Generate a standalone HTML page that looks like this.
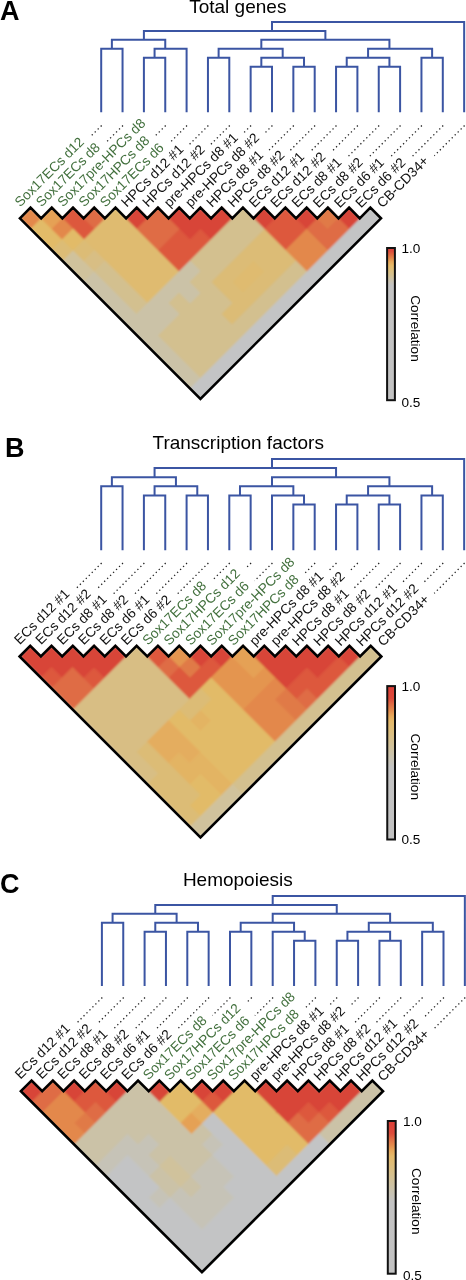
<!DOCTYPE html>
<html><head><meta charset="utf-8"><style>
html,body{margin:0;padding:0;background:#fff;width:466px;height:1280px;overflow:hidden}
svg{display:block;will-change:transform}
text{font-family:"Liberation Sans", sans-serif}
</style></head><body>
<svg width="466" height="1280" viewBox="0 0 466 1280">
<text x="0" y="20.4" font-size="27" font-weight="bold" fill="#000">A</text>
<text x="237.8" y="13.3" font-size="19" text-anchor="middle" fill="#000">Total genes</text>
<path d="M101.20,112.30V48.84H122.55V112.30M143.90,112.30V57.82H165.25V112.30M154.57,57.82V48.84H186.60V112.30M111.88,48.84V39.86H165.25V48.84M207.95,112.30V57.82H229.30V112.30M250.65,112.30V66.80H272.00V112.30M293.35,112.30V66.80H314.70V112.30M261.33,66.80V57.82H304.02V66.80M218.62,57.82V48.84H282.68V57.82M336.05,112.30V66.80H357.40V112.30M378.75,112.30V66.80H400.10V112.30M346.73,66.80V57.82H389.43V66.80M421.45,112.30V57.82H442.80V112.30M368.08,57.82V48.84H432.12V57.82M261.32,48.84V39.86H389.43V48.84M143.90,39.86V30.88H325.38V39.86M272.00,30.88V21.90H464.15V112.30" fill="none" stroke="#3b55a3" stroke-width="2" stroke-linejoin="miter"/>
<defs><clipPath id="clipA"><path d="M18.90,218.30L200.44,35.76L381.98,218.30L200.44,399.84Z"/></clipPath><filter id="blA" x="-5%" y="-5%" width="110%" height="110%"><feGaussianBlur stdDeviation="0.9"/></filter></defs>
<g clip-path="url(#clipA)"><g filter="url(#blA)" shape-rendering="crispEdges"><path d="M19.90,218.30L30.52,207.68L41.14,218.30L30.52,228.92Z" fill="#e3884c"/><path d="M41.14,218.30L51.76,207.68L62.38,218.30L51.76,228.92Z" fill="#e5a155"/><path d="M62.38,218.30L73.00,207.68L83.62,218.30L73.00,228.92Z" fill="#dd583c"/><path d="M83.62,218.30L94.24,207.68L104.86,218.30L94.24,228.92Z" fill="#df6c45"/><path d="M104.86,218.30L115.48,207.68L126.10,218.30L115.48,228.92Z" fill="#dfbb6f"/><path d="M126.10,218.30L136.72,207.68L147.34,218.30L136.72,228.92Z" fill="#d84537"/><path d="M147.34,218.30L157.96,207.68L168.58,218.30L157.96,228.92Z" fill="#df6c45"/><path d="M168.58,218.30L179.20,207.68L189.82,218.30L179.20,228.92Z" fill="#d84537"/><path d="M189.82,218.30L200.44,207.68L211.06,218.30L200.44,228.92Z" fill="#d84537"/><path d="M211.06,218.30L221.68,207.68L232.30,218.30L221.68,228.92Z" fill="#d84537"/><path d="M232.30,218.30L242.92,207.68L253.54,218.30L242.92,228.92Z" fill="#d3c08f"/><path d="M253.54,218.30L264.16,207.68L274.78,218.30L264.16,228.92Z" fill="#d84537"/><path d="M274.78,218.30L285.40,207.68L296.02,218.30L285.40,228.92Z" fill="#dd583c"/><path d="M296.02,218.30L306.64,207.68L317.26,218.30L306.64,228.92Z" fill="#d84537"/><path d="M317.26,218.30L327.88,207.68L338.50,218.30L327.88,228.92Z" fill="#e07a47"/><path d="M338.50,218.30L349.12,207.68L359.74,218.30L349.12,228.92Z" fill="#d84537"/><path d="M359.74,218.30L370.36,207.68L380.98,218.30L370.36,228.92Z" fill="#c3c4c5"/><path d="M30.52,228.92L41.14,218.30L51.76,228.92L41.14,239.54Z" fill="#e2bb68"/><path d="M51.76,228.92L62.38,218.30L73.00,228.92L62.38,239.54Z" fill="#e3884c"/><path d="M73.00,228.92L83.62,218.30L94.24,228.92L83.62,239.54Z" fill="#dd583c"/><path d="M94.24,228.92L104.86,218.30L115.48,228.92L104.86,239.54Z" fill="#dfbb6f"/><path d="M115.48,228.92L126.10,218.30L136.72,228.92L126.10,239.54Z" fill="#dfbb6f"/><path d="M136.72,228.92L147.34,218.30L157.96,228.92L147.34,239.54Z" fill="#df6c45"/><path d="M157.96,228.92L168.58,218.30L179.20,228.92L168.58,239.54Z" fill="#df6c45"/><path d="M179.20,228.92L189.82,218.30L200.44,228.92L189.82,239.54Z" fill="#d84537"/><path d="M200.44,228.92L211.06,218.30L221.68,228.92L211.06,239.54Z" fill="#d84537"/><path d="M221.68,228.92L232.30,218.30L242.92,228.92L232.30,239.54Z" fill="#d3c08f"/><path d="M242.92,228.92L253.54,218.30L264.16,228.92L253.54,239.54Z" fill="#d3c08f"/><path d="M264.16,228.92L274.78,218.30L285.40,228.92L274.78,239.54Z" fill="#dd583c"/><path d="M285.40,228.92L296.02,218.30L306.64,228.92L296.02,239.54Z" fill="#dd583c"/><path d="M306.64,228.92L317.26,218.30L327.88,228.92L317.26,239.54Z" fill="#df6c45"/><path d="M327.88,228.92L338.50,218.30L349.12,228.92L338.50,239.54Z" fill="#df6c45"/><path d="M349.12,228.92L359.74,218.30L370.36,228.92L359.74,239.54Z" fill="#c3c4c5"/><path d="M41.14,239.54L51.76,228.92L62.38,239.54L51.76,250.16Z" fill="#e2bb68"/><path d="M62.38,239.54L73.00,228.92L83.62,239.54L73.00,250.16Z" fill="#e2bb68"/><path d="M83.62,239.54L94.24,228.92L104.86,239.54L94.24,250.16Z" fill="#dfbb6f"/><path d="M104.86,239.54L115.48,228.92L126.10,239.54L115.48,250.16Z" fill="#dfbb6f"/><path d="M126.10,239.54L136.72,228.92L147.34,239.54L136.72,250.16Z" fill="#dfbb6f"/><path d="M147.34,239.54L157.96,228.92L168.58,239.54L157.96,250.16Z" fill="#df6c45"/><path d="M168.58,239.54L179.20,228.92L189.82,239.54L179.20,250.16Z" fill="#dd583c"/><path d="M189.82,239.54L200.44,228.92L211.06,239.54L200.44,250.16Z" fill="#dd583c"/><path d="M211.06,239.54L221.68,228.92L232.30,239.54L221.68,250.16Z" fill="#d3c08f"/><path d="M232.30,239.54L242.92,228.92L253.54,239.54L242.92,250.16Z" fill="#d3c08f"/><path d="M253.54,239.54L264.16,228.92L274.78,239.54L264.16,250.16Z" fill="#dcbc76"/><path d="M274.78,239.54L285.40,228.92L296.02,239.54L285.40,250.16Z" fill="#dd583c"/><path d="M296.02,239.54L306.64,228.92L317.26,239.54L306.64,250.16Z" fill="#e3884c"/><path d="M317.26,239.54L327.88,228.92L338.50,239.54L327.88,250.16Z" fill="#df6c45"/><path d="M338.50,239.54L349.12,228.92L359.74,239.54L349.12,250.16Z" fill="#c3c4c5"/><path d="M51.76,250.16L62.38,239.54L73.00,250.16L62.38,260.78Z" fill="#dcbc76"/><path d="M73.00,250.16L83.62,239.54L94.24,250.16L83.62,260.78Z" fill="#dcbc76"/><path d="M94.24,250.16L104.86,239.54L115.48,250.16L104.86,260.78Z" fill="#dfbb6f"/><path d="M115.48,250.16L126.10,239.54L136.72,250.16L126.10,260.78Z" fill="#dfbb6f"/><path d="M136.72,250.16L147.34,239.54L157.96,250.16L147.34,260.78Z" fill="#dfbb6f"/><path d="M157.96,250.16L168.58,239.54L179.20,250.16L168.58,260.78Z" fill="#dd583c"/><path d="M179.20,250.16L189.82,239.54L200.44,250.16L189.82,260.78Z" fill="#dd583c"/><path d="M200.44,250.16L211.06,239.54L221.68,250.16L211.06,260.78Z" fill="#d3c08f"/><path d="M221.68,250.16L232.30,239.54L242.92,250.16L232.30,260.78Z" fill="#d3c08f"/><path d="M242.92,250.16L253.54,239.54L264.16,250.16L253.54,260.78Z" fill="#dcbc76"/><path d="M264.16,250.16L274.78,239.54L285.40,250.16L274.78,260.78Z" fill="#dcbc76"/><path d="M285.40,250.16L296.02,239.54L306.64,250.16L296.02,260.78Z" fill="#e3884c"/><path d="M306.64,250.16L317.26,239.54L327.88,250.16L317.26,260.78Z" fill="#e3884c"/><path d="M327.88,250.16L338.50,239.54L349.12,250.16L338.50,260.78Z" fill="#c3c4c5"/><path d="M62.38,260.78L73.00,250.16L83.62,260.78L73.00,271.40Z" fill="#d0c29c"/><path d="M83.62,260.78L94.24,250.16L104.86,260.78L94.24,271.40Z" fill="#d8be84"/><path d="M104.86,260.78L115.48,250.16L126.10,260.78L115.48,271.40Z" fill="#dfbb6f"/><path d="M126.10,260.78L136.72,250.16L147.34,260.78L136.72,271.40Z" fill="#dfbb6f"/><path d="M147.34,260.78L157.96,250.16L168.58,260.78L157.96,271.40Z" fill="#dfbb6f"/><path d="M168.58,260.78L179.20,250.16L189.82,260.78L179.20,271.40Z" fill="#dd583c"/><path d="M189.82,260.78L200.44,250.16L211.06,260.78L200.44,271.40Z" fill="#d3c08f"/><path d="M211.06,260.78L221.68,250.16L232.30,260.78L221.68,271.40Z" fill="#d3c08f"/><path d="M232.30,260.78L242.92,250.16L253.54,260.78L242.92,271.40Z" fill="#dcbc76"/><path d="M253.54,260.78L264.16,250.16L274.78,260.78L264.16,271.40Z" fill="#dcbc76"/><path d="M274.78,260.78L285.40,250.16L296.02,260.78L285.40,271.40Z" fill="#dcbc76"/><path d="M296.02,260.78L306.64,250.16L317.26,260.78L306.64,271.40Z" fill="#e3884c"/><path d="M317.26,260.78L327.88,250.16L338.50,260.78L327.88,271.40Z" fill="#c3c4c5"/><path d="M73.00,271.40L83.62,260.78L94.24,271.40L83.62,282.02Z" fill="#d0c29c"/><path d="M94.24,271.40L104.86,260.78L115.48,271.40L104.86,282.02Z" fill="#d3c08f"/><path d="M115.48,271.40L126.10,260.78L136.72,271.40L126.10,282.02Z" fill="#dfbb6f"/><path d="M136.72,271.40L147.34,260.78L157.96,271.40L147.34,282.02Z" fill="#dfbb6f"/><path d="M157.96,271.40L168.58,260.78L179.20,271.40L168.58,282.02Z" fill="#dfbb6f"/><path d="M179.20,271.40L189.82,260.78L200.44,271.40L189.82,282.02Z" fill="#cbc2a7"/><path d="M200.44,271.40L211.06,260.78L221.68,271.40L211.06,282.02Z" fill="#d3c08f"/><path d="M221.68,271.40L232.30,260.78L242.92,271.40L232.30,282.02Z" fill="#dcbc76"/><path d="M242.92,271.40L253.54,260.78L264.16,271.40L253.54,282.02Z" fill="#dfbb6f"/><path d="M264.16,271.40L274.78,260.78L285.40,271.40L274.78,282.02Z" fill="#dcbc76"/><path d="M285.40,271.40L296.02,260.78L306.64,271.40L296.02,282.02Z" fill="#d3c08f"/><path d="M306.64,271.40L317.26,260.78L327.88,271.40L317.26,282.02Z" fill="#c3c4c5"/><path d="M83.62,282.02L94.24,271.40L104.86,282.02L94.24,292.64Z" fill="#cbc2a7"/><path d="M104.86,282.02L115.48,271.40L126.10,282.02L115.48,292.64Z" fill="#d3c08f"/><path d="M126.10,282.02L136.72,271.40L147.34,282.02L136.72,292.64Z" fill="#dfbb6f"/><path d="M147.34,282.02L157.96,271.40L168.58,282.02L157.96,292.64Z" fill="#dfbb6f"/><path d="M168.58,282.02L179.20,271.40L189.82,282.02L179.20,292.64Z" fill="#cbc2a7"/><path d="M189.82,282.02L200.44,271.40L211.06,282.02L200.44,292.64Z" fill="#d3c08f"/><path d="M211.06,282.02L221.68,271.40L232.30,282.02L221.68,292.64Z" fill="#dcbc76"/><path d="M232.30,282.02L242.92,271.40L253.54,282.02L242.92,292.64Z" fill="#dfbb6f"/><path d="M253.54,282.02L264.16,271.40L274.78,282.02L264.16,292.64Z" fill="#dcbc76"/><path d="M274.78,282.02L285.40,271.40L296.02,282.02L285.40,292.64Z" fill="#d3c08f"/><path d="M296.02,282.02L306.64,271.40L317.26,282.02L306.64,292.64Z" fill="#c3c4c5"/><path d="M94.24,292.64L104.86,282.02L115.48,292.64L104.86,303.26Z" fill="#cbc2a7"/><path d="M115.48,292.64L126.10,282.02L136.72,292.64L126.10,303.26Z" fill="#d3c08f"/><path d="M136.72,292.64L147.34,282.02L157.96,292.64L147.34,303.26Z" fill="#dfbb6f"/><path d="M157.96,292.64L168.58,282.02L179.20,292.64L168.58,303.26Z" fill="#cbc2a7"/><path d="M179.20,292.64L189.82,282.02L200.44,292.64L189.82,303.26Z" fill="#cbc2a7"/><path d="M200.44,292.64L211.06,282.02L221.68,292.64L211.06,303.26Z" fill="#d3c08f"/><path d="M221.68,292.64L232.30,282.02L242.92,292.64L232.30,303.26Z" fill="#dcbc76"/><path d="M242.92,292.64L253.54,282.02L264.16,292.64L253.54,303.26Z" fill="#dcbc76"/><path d="M264.16,292.64L274.78,282.02L285.40,292.64L274.78,303.26Z" fill="#d3c08f"/><path d="M285.40,292.64L296.02,282.02L306.64,292.64L296.02,303.26Z" fill="#c3c4c5"/><path d="M104.86,303.26L115.48,292.64L126.10,303.26L115.48,313.88Z" fill="#cbc2a7"/><path d="M126.10,303.26L136.72,292.64L147.34,303.26L136.72,313.88Z" fill="#d3c08f"/><path d="M147.34,303.26L157.96,292.64L168.58,303.26L157.96,313.88Z" fill="#cbc2a7"/><path d="M168.58,303.26L179.20,292.64L189.82,303.26L179.20,313.88Z" fill="#d3c08f"/><path d="M189.82,303.26L200.44,292.64L211.06,303.26L200.44,313.88Z" fill="#d3c08f"/><path d="M211.06,303.26L221.68,292.64L232.30,303.26L221.68,313.88Z" fill="#d3c08f"/><path d="M232.30,303.26L242.92,292.64L253.54,303.26L242.92,313.88Z" fill="#dcbc76"/><path d="M253.54,303.26L264.16,292.64L274.78,303.26L264.16,313.88Z" fill="#d3c08f"/><path d="M274.78,303.26L285.40,292.64L296.02,303.26L285.40,313.88Z" fill="#c3c4c5"/><path d="M115.48,313.88L126.10,303.26L136.72,313.88L126.10,324.50Z" fill="#cbc2a7"/><path d="M136.72,313.88L147.34,303.26L157.96,313.88L147.34,324.50Z" fill="#cbc2a7"/><path d="M157.96,313.88L168.58,303.26L179.20,313.88L168.58,324.50Z" fill="#cbc2a7"/><path d="M179.20,313.88L189.82,303.26L200.44,313.88L189.82,324.50Z" fill="#d3c08f"/><path d="M200.44,313.88L211.06,303.26L221.68,313.88L211.06,324.50Z" fill="#d3c08f"/><path d="M221.68,313.88L232.30,303.26L242.92,313.88L232.30,324.50Z" fill="#dcbc76"/><path d="M242.92,313.88L253.54,303.26L264.16,313.88L253.54,324.50Z" fill="#d3c08f"/><path d="M264.16,313.88L274.78,303.26L285.40,313.88L274.78,324.50Z" fill="#c3c4c5"/><path d="M126.10,324.50L136.72,313.88L147.34,324.50L136.72,335.12Z" fill="#cbc2a7"/><path d="M147.34,324.50L157.96,313.88L168.58,324.50L157.96,335.12Z" fill="#cbc2a7"/><path d="M168.58,324.50L179.20,313.88L189.82,324.50L179.20,335.12Z" fill="#d3c08f"/><path d="M189.82,324.50L200.44,313.88L211.06,324.50L200.44,335.12Z" fill="#d3c08f"/><path d="M211.06,324.50L221.68,313.88L232.30,324.50L221.68,335.12Z" fill="#d3c08f"/><path d="M232.30,324.50L242.92,313.88L253.54,324.50L242.92,335.12Z" fill="#d3c08f"/><path d="M253.54,324.50L264.16,313.88L274.78,324.50L264.16,335.12Z" fill="#c3c4c5"/><path d="M136.72,335.12L147.34,324.50L157.96,335.12L147.34,345.74Z" fill="#cbc2a7"/><path d="M157.96,335.12L168.58,324.50L179.20,335.12L168.58,345.74Z" fill="#d3c08f"/><path d="M179.20,335.12L189.82,324.50L200.44,335.12L189.82,345.74Z" fill="#d3c08f"/><path d="M200.44,335.12L211.06,324.50L221.68,335.12L211.06,345.74Z" fill="#d3c08f"/><path d="M221.68,335.12L232.30,324.50L242.92,335.12L232.30,345.74Z" fill="#d3c08f"/><path d="M242.92,335.12L253.54,324.50L264.16,335.12L253.54,345.74Z" fill="#c3c4c5"/><path d="M147.34,345.74L157.96,335.12L168.58,345.74L157.96,356.36Z" fill="#cbc2a7"/><path d="M168.58,345.74L179.20,335.12L189.82,345.74L179.20,356.36Z" fill="#d3c08f"/><path d="M189.82,345.74L200.44,335.12L211.06,345.74L200.44,356.36Z" fill="#d3c08f"/><path d="M211.06,345.74L221.68,335.12L232.30,345.74L221.68,356.36Z" fill="#d3c08f"/><path d="M232.30,345.74L242.92,335.12L253.54,345.74L242.92,356.36Z" fill="#c3c4c5"/><path d="M157.96,356.36L168.58,345.74L179.20,356.36L168.58,366.98Z" fill="#cbc2a7"/><path d="M179.20,356.36L189.82,345.74L200.44,356.36L189.82,366.98Z" fill="#d3c08f"/><path d="M200.44,356.36L211.06,345.74L221.68,356.36L211.06,366.98Z" fill="#d3c08f"/><path d="M221.68,356.36L232.30,345.74L242.92,356.36L232.30,366.98Z" fill="#c3c4c5"/><path d="M168.58,366.98L179.20,356.36L189.82,366.98L179.20,377.60Z" fill="#cbc2a7"/><path d="M189.82,366.98L200.44,356.36L211.06,366.98L200.44,377.60Z" fill="#d3c08f"/><path d="M211.06,366.98L221.68,356.36L232.30,366.98L221.68,377.60Z" fill="#c3c4c5"/><path d="M179.20,377.60L189.82,366.98L200.44,377.60L189.82,388.22Z" fill="#cbc2a7"/><path d="M200.44,377.60L211.06,366.98L221.68,377.60L211.06,388.22Z" fill="#c3c4c5"/><path d="M189.82,388.22L200.44,377.60L211.06,388.22L200.44,398.84Z" fill="#c3c4c5"/></g></g>
<path d="M19.90,218.30L30.52,207.68L41.14,218.30L51.76,207.68L62.38,218.30L73.00,207.68L83.62,218.30L94.24,207.68L104.86,218.30L115.48,207.68L126.10,218.30L136.72,207.68L147.34,218.30L157.96,207.68L168.58,218.30L179.20,207.68L189.82,218.30L200.44,207.68L211.06,218.30L221.68,207.68L232.30,218.30L242.92,207.68L253.54,218.30L264.16,207.68L274.78,218.30L285.40,207.68L296.02,218.30L306.64,207.68L317.26,218.30L327.88,207.68L338.50,218.30L349.12,207.68L359.74,218.30L370.36,207.68L380.98,218.30L200.44,398.84Z" fill="none" stroke="#000" stroke-width="2.6" stroke-linejoin="miter" stroke-miterlimit="10"/>
<text transform="translate(20.30,207.40) rotate(-45)" font-size="13.7" fill="#42703d">Sox17ECs d12</text>
<line x1="101.60" y1="125.50" x2="89.87" y2="137.23" stroke="#222" stroke-width="1.3" stroke-dasharray="1.3 2.9"/>
<text transform="translate(41.60,207.47) rotate(-45)" font-size="13.7" fill="#42703d">Sox17ECs d8</text>
<line x1="122.95" y1="125.50" x2="105.78" y2="142.67" stroke="#222" stroke-width="1.3" stroke-dasharray="1.3 2.9"/>
<text transform="translate(62.90,207.54) rotate(-45)" font-size="13.7" fill="#42703d">Sox17pre-HPCs d8</text>
<text transform="translate(84.20,207.61) rotate(-45)" font-size="13.7" fill="#42703d">Sox17HPCs d8</text>
<line x1="165.65" y1="125.50" x2="155.35" y2="135.80" stroke="#222" stroke-width="1.3" stroke-dasharray="1.3 2.9"/>
<text transform="translate(105.50,207.68) rotate(-45)" font-size="13.7" fill="#42703d">Sox17ECs d6</text>
<line x1="187.00" y1="125.50" x2="169.65" y2="142.85" stroke="#222" stroke-width="1.3" stroke-dasharray="1.3 2.9"/>
<text transform="translate(126.80,207.75) rotate(-45)" font-size="13.7" fill="#111">HPCs d12 #1</text>
<line x1="208.35" y1="125.50" x2="189.33" y2="144.52" stroke="#222" stroke-width="1.3" stroke-dasharray="1.3 2.9"/>
<text transform="translate(148.10,207.82) rotate(-45)" font-size="13.7" fill="#111">HPCs d12 #2</text>
<line x1="229.70" y1="125.50" x2="210.62" y2="144.58" stroke="#222" stroke-width="1.3" stroke-dasharray="1.3 2.9"/>
<text transform="translate(169.40,207.89) rotate(-45)" font-size="13.7" fill="#111">pre-HPCs d8 #1</text>
<line x1="251.05" y1="125.50" x2="243.73" y2="132.82" stroke="#222" stroke-width="1.3" stroke-dasharray="1.3 2.9"/>
<text transform="translate(190.70,207.96) rotate(-45)" font-size="13.7" fill="#111">pre-HPCs d8 #2</text>
<line x1="272.40" y1="125.50" x2="265.02" y2="132.88" stroke="#222" stroke-width="1.3" stroke-dasharray="1.3 2.9"/>
<text transform="translate(212.00,208.03) rotate(-45)" font-size="13.7" fill="#111">HPCs d8 #1</text>
<line x1="293.75" y1="125.50" x2="269.11" y2="150.14" stroke="#222" stroke-width="1.3" stroke-dasharray="1.3 2.9"/>
<text transform="translate(233.30,208.10) rotate(-45)" font-size="13.7" fill="#111">HPCs d8 #2</text>
<line x1="315.10" y1="125.50" x2="290.40" y2="150.20" stroke="#222" stroke-width="1.3" stroke-dasharray="1.3 2.9"/>
<text transform="translate(254.60,208.17) rotate(-45)" font-size="13.7" fill="#111">ECs d12 #1</text>
<line x1="336.45" y1="125.50" x2="310.07" y2="151.88" stroke="#222" stroke-width="1.3" stroke-dasharray="1.3 2.9"/>
<text transform="translate(275.90,208.24) rotate(-45)" font-size="13.7" fill="#111">ECs d12 #2</text>
<line x1="357.80" y1="125.50" x2="331.36" y2="151.94" stroke="#222" stroke-width="1.3" stroke-dasharray="1.3 2.9"/>
<text transform="translate(297.20,208.31) rotate(-45)" font-size="13.7" fill="#111">ECs d8 #1</text>
<line x1="379.15" y1="125.50" x2="347.27" y2="157.38" stroke="#222" stroke-width="1.3" stroke-dasharray="1.3 2.9"/>
<text transform="translate(318.50,208.38) rotate(-45)" font-size="13.7" fill="#111">ECs d8 #2</text>
<line x1="400.50" y1="125.50" x2="368.56" y2="157.44" stroke="#222" stroke-width="1.3" stroke-dasharray="1.3 2.9"/>
<text transform="translate(339.80,208.45) rotate(-45)" font-size="13.7" fill="#111">ECs d6 #1</text>
<line x1="421.85" y1="125.50" x2="389.85" y2="157.50" stroke="#222" stroke-width="1.3" stroke-dasharray="1.3 2.9"/>
<text transform="translate(361.10,208.52) rotate(-45)" font-size="13.7" fill="#111">ECs d6 #2</text>
<line x1="443.20" y1="125.50" x2="411.14" y2="157.56" stroke="#222" stroke-width="1.3" stroke-dasharray="1.3 2.9"/>
<text transform="translate(382.40,208.59) rotate(-45)" font-size="13.7" fill="#111">CB-CD34+</text>
<line x1="464.55" y1="125.50" x2="434.30" y2="155.75" stroke="#222" stroke-width="1.3" stroke-dasharray="1.3 2.9"/>
<defs><linearGradient id="gA" x1="0" y1="0" x2="0" y2="1"><stop offset="0" stop-color="#e04040"/><stop offset="0.02" stop-color="#dc4a3a"/><stop offset="0.045" stop-color="#df6a40"/><stop offset="0.07" stop-color="#e38a4c"/><stop offset="0.09" stop-color="#e7a85a"/><stop offset="0.115" stop-color="#e7ba6a"/><stop offset="0.15" stop-color="#dcc080"/><stop offset="0.185" stop-color="#d3c196"/><stop offset="0.215" stop-color="#cac3b0"/><stop offset="0.245" stop-color="#c3c3c3"/><stop offset="1" stop-color="#c2c2c2"/></linearGradient></defs>
<rect x="387.1" y="248" width="7.8" height="152.2" fill="url(#gA)" stroke="#111" stroke-width="2"/>
<text x="401.5" y="252.9" font-size="13.6" fill="#000">1.0</text>
<text x="401.5" y="406.5" font-size="13.6" fill="#000">0.5</text>
<text transform="translate(410.6,295.2) rotate(90)" font-size="13.6" fill="#000">Correlation</text>
<text x="5" y="456.8" font-size="27" font-weight="bold" fill="#000">B</text>
<text x="238.2" y="449.1" font-size="19" text-anchor="middle" fill="#000">Transcription factors</text>
<path d="M101.20,550.30V486.30H122.55V550.30M143.90,550.30V495.40H165.25V550.30M186.60,550.30V495.40H207.95V550.30M154.57,495.40V486.30H197.28V495.40M111.88,486.30V477.20H175.93V486.30M229.30,550.30V495.40H250.65V550.30M293.35,550.30V504.50H314.70V550.30M272.00,550.30V495.40H304.02V504.50M239.98,495.40V486.30H293.35V495.40M336.05,550.30V504.50H357.40V550.30M378.75,550.30V504.50H400.10V550.30M346.73,504.50V495.40H389.43V504.50M421.45,550.30V495.40H442.80V550.30M368.08,495.40V486.30H432.12V495.40M272.00,486.30V477.20H389.43V486.30M154.57,477.20V468.10H336.05V477.20M272.00,468.10V459.00H464.15V550.30" fill="none" stroke="#3b55a3" stroke-width="2" stroke-linejoin="miter"/>
<defs><clipPath id="clipB"><path d="M18.60,656.50L200.48,473.62L382.36,656.50L200.48,838.38Z"/></clipPath><filter id="blB" x="-5%" y="-5%" width="110%" height="110%"><feGaussianBlur stdDeviation="0.9"/></filter></defs>
<g clip-path="url(#clipB)"><g filter="url(#blB)" shape-rendering="crispEdges"><path d="M19.60,656.50L30.24,645.86L40.88,656.50L30.24,667.14Z" fill="#d84537"/><path d="M40.88,656.50L51.52,645.86L62.16,656.50L51.52,667.14Z" fill="#d84537"/><path d="M62.16,656.50L72.80,645.86L83.44,656.50L72.80,667.14Z" fill="#d84537"/><path d="M83.44,656.50L94.08,645.86L104.72,656.50L94.08,667.14Z" fill="#d84537"/><path d="M104.72,656.50L115.36,645.86L126.00,656.50L115.36,667.14Z" fill="#d84537"/><path d="M126.00,656.50L136.64,645.86L147.28,656.50L136.64,667.14Z" fill="#d8be84"/><path d="M147.28,656.50L157.92,645.86L168.56,656.50L157.92,667.14Z" fill="#dd583c"/><path d="M168.56,656.50L179.20,645.86L189.84,656.50L179.20,667.14Z" fill="#e4954f"/><path d="M189.84,656.50L200.48,645.86L211.12,656.50L200.48,667.14Z" fill="#d84537"/><path d="M211.12,656.50L221.76,645.86L232.40,656.50L221.76,667.14Z" fill="#d84537"/><path d="M232.40,656.50L243.04,645.86L253.68,656.50L243.04,667.14Z" fill="#e5a155"/><path d="M253.68,656.50L264.32,645.86L274.96,656.50L264.32,667.14Z" fill="#d84537"/><path d="M274.96,656.50L285.60,645.86L296.24,656.50L285.60,667.14Z" fill="#d84537"/><path d="M296.24,656.50L306.88,645.86L317.52,656.50L306.88,667.14Z" fill="#d84537"/><path d="M317.52,656.50L328.16,645.86L338.80,656.50L328.16,667.14Z" fill="#d84537"/><path d="M338.80,656.50L349.44,645.86L360.08,656.50L349.44,667.14Z" fill="#d84537"/><path d="M360.08,656.50L370.72,645.86L381.36,656.50L370.72,667.14Z" fill="#d3c08f"/><path d="M30.24,667.14L40.88,656.50L51.52,667.14L40.88,677.78Z" fill="#d84537"/><path d="M51.52,667.14L62.16,656.50L72.80,667.14L62.16,677.78Z" fill="#d84537"/><path d="M72.80,667.14L83.44,656.50L94.08,667.14L83.44,677.78Z" fill="#d84537"/><path d="M94.08,667.14L104.72,656.50L115.36,667.14L104.72,677.78Z" fill="#d84537"/><path d="M115.36,667.14L126.00,656.50L136.64,667.14L126.00,677.78Z" fill="#d8be84"/><path d="M136.64,667.14L147.28,656.50L157.92,667.14L147.28,677.78Z" fill="#d8be84"/><path d="M157.92,667.14L168.56,656.50L179.20,667.14L168.56,677.78Z" fill="#df6c45"/><path d="M179.20,667.14L189.84,656.50L200.48,667.14L189.84,677.78Z" fill="#e07a47"/><path d="M200.48,667.14L211.12,656.50L221.76,667.14L211.12,677.78Z" fill="#dd583c"/><path d="M221.76,667.14L232.40,656.50L243.04,667.14L232.40,677.78Z" fill="#e4954f"/><path d="M243.04,667.14L253.68,656.50L264.32,667.14L253.68,677.78Z" fill="#e5a155"/><path d="M264.32,667.14L274.96,656.50L285.60,667.14L274.96,677.78Z" fill="#d84537"/><path d="M285.60,667.14L296.24,656.50L306.88,667.14L296.24,677.78Z" fill="#d84537"/><path d="M306.88,667.14L317.52,656.50L328.16,667.14L317.52,677.78Z" fill="#d84537"/><path d="M328.16,667.14L338.80,656.50L349.44,667.14L338.80,677.78Z" fill="#dd583c"/><path d="M349.44,667.14L360.08,656.50L370.72,667.14L360.08,677.78Z" fill="#d3c08f"/><path d="M40.88,677.78L51.52,667.14L62.16,677.78L51.52,688.42Z" fill="#dd583c"/><path d="M62.16,677.78L72.80,667.14L83.44,677.78L72.80,688.42Z" fill="#df6c45"/><path d="M83.44,677.78L94.08,667.14L104.72,677.78L94.08,688.42Z" fill="#dd583c"/><path d="M104.72,677.78L115.36,667.14L126.00,677.78L115.36,688.42Z" fill="#d8be84"/><path d="M126.00,677.78L136.64,667.14L147.28,677.78L136.64,688.42Z" fill="#d8be84"/><path d="M147.28,677.78L157.92,667.14L168.56,677.78L157.92,688.42Z" fill="#d8be84"/><path d="M168.56,677.78L179.20,667.14L189.84,677.78L179.20,688.42Z" fill="#dd583c"/><path d="M189.84,677.78L200.48,667.14L211.12,677.78L200.48,688.42Z" fill="#dd583c"/><path d="M211.12,677.78L221.76,667.14L232.40,677.78L221.76,688.42Z" fill="#e4954f"/><path d="M232.40,677.78L243.04,667.14L253.68,677.78L243.04,688.42Z" fill="#e4954f"/><path d="M253.68,677.78L264.32,667.14L274.96,677.78L264.32,688.42Z" fill="#e4954f"/><path d="M274.96,677.78L285.60,667.14L296.24,677.78L285.60,688.42Z" fill="#d84537"/><path d="M296.24,677.78L306.88,667.14L317.52,677.78L306.88,688.42Z" fill="#dd583c"/><path d="M317.52,677.78L328.16,667.14L338.80,677.78L328.16,688.42Z" fill="#dd583c"/><path d="M338.80,677.78L349.44,667.14L360.08,677.78L349.44,688.42Z" fill="#d3c08f"/><path d="M51.52,688.42L62.16,677.78L72.80,688.42L62.16,699.06Z" fill="#df6c45"/><path d="M72.80,688.42L83.44,677.78L94.08,688.42L83.44,699.06Z" fill="#df6c45"/><path d="M94.08,688.42L104.72,677.78L115.36,688.42L104.72,699.06Z" fill="#d8be84"/><path d="M115.36,688.42L126.00,677.78L136.64,688.42L126.00,699.06Z" fill="#d8be84"/><path d="M136.64,688.42L147.28,677.78L157.92,688.42L147.28,699.06Z" fill="#d8be84"/><path d="M157.92,688.42L168.56,677.78L179.20,688.42L168.56,699.06Z" fill="#d8be84"/><path d="M179.20,688.42L189.84,677.78L200.48,688.42L189.84,699.06Z" fill="#dd583c"/><path d="M200.48,688.42L211.12,677.78L221.76,688.42L211.12,699.06Z" fill="#e2bb68"/><path d="M221.76,688.42L232.40,677.78L243.04,688.42L232.40,699.06Z" fill="#e4954f"/><path d="M243.04,688.42L253.68,677.78L264.32,688.42L253.68,699.06Z" fill="#e4954f"/><path d="M264.32,688.42L274.96,677.78L285.60,688.42L274.96,699.06Z" fill="#e3884c"/><path d="M285.60,688.42L296.24,677.78L306.88,688.42L296.24,699.06Z" fill="#dd583c"/><path d="M306.88,688.42L317.52,677.78L328.16,688.42L317.52,699.06Z" fill="#dd583c"/><path d="M328.16,688.42L338.80,677.78L349.44,688.42L338.80,699.06Z" fill="#d3c08f"/><path d="M62.16,699.06L72.80,688.42L83.44,699.06L72.80,709.70Z" fill="#df6c45"/><path d="M83.44,699.06L94.08,688.42L104.72,699.06L94.08,709.70Z" fill="#d8be84"/><path d="M104.72,699.06L115.36,688.42L126.00,699.06L115.36,709.70Z" fill="#d8be84"/><path d="M126.00,699.06L136.64,688.42L147.28,699.06L136.64,709.70Z" fill="#d8be84"/><path d="M147.28,699.06L157.92,688.42L168.56,699.06L157.92,709.70Z" fill="#d8be84"/><path d="M168.56,699.06L179.20,688.42L189.84,699.06L179.20,709.70Z" fill="#d8be84"/><path d="M189.84,699.06L200.48,688.42L211.12,699.06L200.48,709.70Z" fill="#dcbc76"/><path d="M211.12,699.06L221.76,688.42L232.40,699.06L221.76,709.70Z" fill="#e2bb68"/><path d="M232.40,699.06L243.04,688.42L253.68,699.06L243.04,709.70Z" fill="#e4954f"/><path d="M253.68,699.06L264.32,688.42L274.96,699.06L264.32,709.70Z" fill="#e3884c"/><path d="M274.96,699.06L285.60,688.42L296.24,699.06L285.60,709.70Z" fill="#e07a47"/><path d="M296.24,699.06L306.88,688.42L317.52,699.06L306.88,709.70Z" fill="#df6c45"/><path d="M317.52,699.06L328.16,688.42L338.80,699.06L328.16,709.70Z" fill="#d3c08f"/><path d="M72.80,709.70L83.44,699.06L94.08,709.70L83.44,720.34Z" fill="#d8be84"/><path d="M94.08,709.70L104.72,699.06L115.36,709.70L104.72,720.34Z" fill="#d8be84"/><path d="M115.36,709.70L126.00,699.06L136.64,709.70L126.00,720.34Z" fill="#d8be84"/><path d="M136.64,709.70L147.28,699.06L157.92,709.70L147.28,720.34Z" fill="#d8be84"/><path d="M157.92,709.70L168.56,699.06L179.20,709.70L168.56,720.34Z" fill="#d8be84"/><path d="M179.20,709.70L189.84,699.06L200.48,709.70L189.84,720.34Z" fill="#dcbc76"/><path d="M200.48,709.70L211.12,699.06L221.76,709.70L211.12,720.34Z" fill="#e2bb68"/><path d="M221.76,709.70L232.40,699.06L243.04,709.70L232.40,720.34Z" fill="#e2bb68"/><path d="M243.04,709.70L253.68,699.06L264.32,709.70L253.68,720.34Z" fill="#e3884c"/><path d="M264.32,709.70L274.96,699.06L285.60,709.70L274.96,720.34Z" fill="#e3884c"/><path d="M285.60,709.70L296.24,699.06L306.88,709.70L296.24,720.34Z" fill="#e07a47"/><path d="M306.88,709.70L317.52,699.06L328.16,709.70L317.52,720.34Z" fill="#d3c08f"/><path d="M83.44,720.34L94.08,709.70L104.72,720.34L94.08,730.98Z" fill="#d8be84"/><path d="M104.72,720.34L115.36,709.70L126.00,720.34L115.36,730.98Z" fill="#d8be84"/><path d="M126.00,720.34L136.64,709.70L147.28,720.34L136.64,730.98Z" fill="#d8be84"/><path d="M147.28,720.34L157.92,709.70L168.56,720.34L157.92,730.98Z" fill="#d8be84"/><path d="M168.56,720.34L179.20,709.70L189.84,720.34L179.20,730.98Z" fill="#e2bb68"/><path d="M189.84,720.34L200.48,709.70L211.12,720.34L200.48,730.98Z" fill="#e3b464"/><path d="M211.12,720.34L221.76,709.70L232.40,720.34L221.76,730.98Z" fill="#e2bb68"/><path d="M232.40,720.34L243.04,709.70L253.68,720.34L243.04,730.98Z" fill="#e2bb68"/><path d="M253.68,720.34L264.32,709.70L274.96,720.34L264.32,730.98Z" fill="#e3884c"/><path d="M274.96,720.34L285.60,709.70L296.24,720.34L285.60,730.98Z" fill="#e3884c"/><path d="M296.24,720.34L306.88,709.70L317.52,720.34L306.88,730.98Z" fill="#d3c08f"/><path d="M94.08,730.98L104.72,720.34L115.36,730.98L104.72,741.62Z" fill="#d8be84"/><path d="M115.36,730.98L126.00,720.34L136.64,730.98L126.00,741.62Z" fill="#d8be84"/><path d="M136.64,730.98L147.28,720.34L157.92,730.98L147.28,741.62Z" fill="#d8be84"/><path d="M157.92,730.98L168.56,720.34L179.20,730.98L168.56,741.62Z" fill="#e4ad5e"/><path d="M179.20,730.98L189.84,720.34L200.48,730.98L189.84,741.62Z" fill="#e2bb68"/><path d="M200.48,730.98L211.12,720.34L221.76,730.98L211.12,741.62Z" fill="#e2bb68"/><path d="M221.76,730.98L232.40,720.34L243.04,730.98L232.40,741.62Z" fill="#e2bb68"/><path d="M243.04,730.98L253.68,720.34L264.32,730.98L253.68,741.62Z" fill="#e2bb68"/><path d="M264.32,730.98L274.96,720.34L285.60,730.98L274.96,741.62Z" fill="#e3884c"/><path d="M285.60,730.98L296.24,720.34L306.88,730.98L296.24,741.62Z" fill="#d3c08f"/><path d="M104.72,741.62L115.36,730.98L126.00,741.62L115.36,752.26Z" fill="#d8be84"/><path d="M126.00,741.62L136.64,730.98L147.28,741.62L136.64,752.26Z" fill="#d8be84"/><path d="M147.28,741.62L157.92,730.98L168.56,741.62L157.92,752.26Z" fill="#e4ad5e"/><path d="M168.56,741.62L179.20,730.98L189.84,741.62L179.20,752.26Z" fill="#e4ad5e"/><path d="M189.84,741.62L200.48,730.98L211.12,741.62L200.48,752.26Z" fill="#e2bb68"/><path d="M211.12,741.62L221.76,730.98L232.40,741.62L221.76,752.26Z" fill="#e2bb68"/><path d="M232.40,741.62L243.04,730.98L253.68,741.62L243.04,752.26Z" fill="#e2bb68"/><path d="M253.68,741.62L264.32,730.98L274.96,741.62L264.32,752.26Z" fill="#e2bb68"/><path d="M274.96,741.62L285.60,730.98L296.24,741.62L285.60,752.26Z" fill="#d3c08f"/><path d="M115.36,752.26L126.00,741.62L136.64,752.26L126.00,762.90Z" fill="#d8be84"/><path d="M136.64,752.26L147.28,741.62L157.92,752.26L147.28,762.90Z" fill="#dcbc76"/><path d="M157.92,752.26L168.56,741.62L179.20,752.26L168.56,762.90Z" fill="#e4ad5e"/><path d="M179.20,752.26L189.84,741.62L200.48,752.26L189.84,762.90Z" fill="#e4ad5e"/><path d="M200.48,752.26L211.12,741.62L221.76,752.26L211.12,762.90Z" fill="#e2bb68"/><path d="M221.76,752.26L232.40,741.62L243.04,752.26L232.40,762.90Z" fill="#e2bb68"/><path d="M243.04,752.26L253.68,741.62L264.32,752.26L253.68,762.90Z" fill="#e2bb68"/><path d="M264.32,752.26L274.96,741.62L285.60,752.26L274.96,762.90Z" fill="#d3c08f"/><path d="M126.00,762.90L136.64,752.26L147.28,762.90L136.64,773.54Z" fill="#d8be84"/><path d="M147.28,762.90L157.92,752.26L168.56,762.90L157.92,773.54Z" fill="#dcbc76"/><path d="M168.56,762.90L179.20,752.26L189.84,762.90L179.20,773.54Z" fill="#e3b464"/><path d="M189.84,762.90L200.48,752.26L211.12,762.90L200.48,773.54Z" fill="#e3b464"/><path d="M211.12,762.90L221.76,752.26L232.40,762.90L221.76,773.54Z" fill="#e2bb68"/><path d="M232.40,762.90L243.04,752.26L253.68,762.90L243.04,773.54Z" fill="#e2bb68"/><path d="M253.68,762.90L264.32,752.26L274.96,762.90L264.32,773.54Z" fill="#d3c08f"/><path d="M136.64,773.54L147.28,762.90L157.92,773.54L147.28,784.18Z" fill="#d8be84"/><path d="M157.92,773.54L168.56,762.90L179.20,773.54L168.56,784.18Z" fill="#dcbc76"/><path d="M179.20,773.54L189.84,762.90L200.48,773.54L189.84,784.18Z" fill="#e3b464"/><path d="M200.48,773.54L211.12,762.90L221.76,773.54L211.12,784.18Z" fill="#e3b464"/><path d="M221.76,773.54L232.40,762.90L243.04,773.54L232.40,784.18Z" fill="#e2bb68"/><path d="M243.04,773.54L253.68,762.90L264.32,773.54L253.68,784.18Z" fill="#d3c08f"/><path d="M147.28,784.18L157.92,773.54L168.56,784.18L157.92,794.82Z" fill="#dcbc76"/><path d="M168.56,784.18L179.20,773.54L189.84,784.18L179.20,794.82Z" fill="#dcbc76"/><path d="M189.84,784.18L200.48,773.54L211.12,784.18L200.48,794.82Z" fill="#e2bb68"/><path d="M211.12,784.18L221.76,773.54L232.40,784.18L221.76,794.82Z" fill="#e3b464"/><path d="M232.40,784.18L243.04,773.54L253.68,784.18L243.04,794.82Z" fill="#d3c08f"/><path d="M157.92,794.82L168.56,784.18L179.20,794.82L168.56,805.46Z" fill="#dcbc76"/><path d="M179.20,794.82L189.84,784.18L200.48,794.82L189.84,805.46Z" fill="#dcbc76"/><path d="M200.48,794.82L211.12,784.18L221.76,794.82L211.12,805.46Z" fill="#e2bb68"/><path d="M221.76,794.82L232.40,784.18L243.04,794.82L232.40,805.46Z" fill="#d0c29c"/><path d="M168.56,805.46L179.20,794.82L189.84,805.46L179.20,816.10Z" fill="#dcbc76"/><path d="M189.84,805.46L200.48,794.82L211.12,805.46L200.48,816.10Z" fill="#e2bb68"/><path d="M211.12,805.46L221.76,794.82L232.40,805.46L221.76,816.10Z" fill="#d0c29c"/><path d="M179.20,816.10L189.84,805.46L200.48,816.10L189.84,826.74Z" fill="#dcbc76"/><path d="M200.48,816.10L211.12,805.46L221.76,816.10L211.12,826.74Z" fill="#d0c29c"/><path d="M189.84,826.74L200.48,816.10L211.12,826.74L200.48,837.38Z" fill="#d0c29c"/></g></g>
<path d="M19.60,656.50L30.24,645.86L40.88,656.50L51.52,645.86L62.16,656.50L72.80,645.86L83.44,656.50L94.08,645.86L104.72,656.50L115.36,645.86L126.00,656.50L136.64,645.86L147.28,656.50L157.92,645.86L168.56,656.50L179.20,645.86L189.84,656.50L200.48,645.86L211.12,656.50L221.76,645.86L232.40,656.50L243.04,645.86L253.68,656.50L264.32,645.86L274.96,656.50L285.60,645.86L296.24,656.50L306.88,645.86L317.52,656.50L328.16,645.86L338.80,656.50L349.44,645.86L360.08,656.50L370.72,645.86L381.36,656.50L200.48,837.38Z" fill="none" stroke="#000" stroke-width="2.6" stroke-linejoin="miter" stroke-miterlimit="10"/>
<text transform="translate(19.70,645.20) rotate(-45)" font-size="13.7" fill="#111">ECs d12 #1</text>
<line x1="101.60" y1="563.00" x2="75.43" y2="589.17" stroke="#222" stroke-width="1.3" stroke-dasharray="1.3 2.9"/>
<text transform="translate(41.08,645.31) rotate(-45)" font-size="13.7" fill="#111">ECs d12 #2</text>
<line x1="122.95" y1="563.00" x2="96.74" y2="589.21" stroke="#222" stroke-width="1.3" stroke-dasharray="1.3 2.9"/>
<text transform="translate(62.46,645.42) rotate(-45)" font-size="13.7" fill="#111">ECs d8 #1</text>
<line x1="144.30" y1="563.00" x2="112.67" y2="594.63" stroke="#222" stroke-width="1.3" stroke-dasharray="1.3 2.9"/>
<text transform="translate(83.84,645.53) rotate(-45)" font-size="13.7" fill="#111">ECs d8 #2</text>
<line x1="165.65" y1="563.00" x2="133.98" y2="594.67" stroke="#222" stroke-width="1.3" stroke-dasharray="1.3 2.9"/>
<text transform="translate(105.22,645.64) rotate(-45)" font-size="13.7" fill="#111">ECs d6 #1</text>
<line x1="187.00" y1="563.00" x2="155.29" y2="594.71" stroke="#222" stroke-width="1.3" stroke-dasharray="1.3 2.9"/>
<text transform="translate(126.60,645.75) rotate(-45)" font-size="13.7" fill="#111">ECs d6 #2</text>
<line x1="208.35" y1="563.00" x2="176.60" y2="594.75" stroke="#222" stroke-width="1.3" stroke-dasharray="1.3 2.9"/>
<text transform="translate(147.98,645.86) rotate(-45)" font-size="13.7" fill="#42703d">Sox17ECs d8</text>
<line x1="229.70" y1="563.00" x2="211.90" y2="580.80" stroke="#222" stroke-width="1.3" stroke-dasharray="1.3 2.9"/>
<text transform="translate(169.36,645.97) rotate(-45)" font-size="13.7" fill="#42703d">Sox17HPCs d12</text>
<line x1="251.05" y1="563.00" x2="245.58" y2="568.47" stroke="#222" stroke-width="1.3" stroke-dasharray="1.3 2.9"/>
<text transform="translate(190.74,646.08) rotate(-45)" font-size="13.7" fill="#42703d">Sox17ECs d6</text>
<line x1="272.40" y1="563.00" x2="254.52" y2="580.88" stroke="#222" stroke-width="1.3" stroke-dasharray="1.3 2.9"/>
<text transform="translate(212.12,646.19) rotate(-45)" font-size="13.7" fill="#42703d">Sox17pre-HPCs d8</text>
<text transform="translate(233.50,646.30) rotate(-45)" font-size="13.7" fill="#42703d">Sox17HPCs d8</text>
<line x1="315.10" y1="563.00" x2="304.13" y2="573.97" stroke="#222" stroke-width="1.3" stroke-dasharray="1.3 2.9"/>
<text transform="translate(254.88,646.41) rotate(-45)" font-size="13.7" fill="#111">pre-HPCs d8 #1</text>
<line x1="336.45" y1="563.00" x2="328.66" y2="570.79" stroke="#222" stroke-width="1.3" stroke-dasharray="1.3 2.9"/>
<text transform="translate(276.26,646.52) rotate(-45)" font-size="13.7" fill="#111">pre-HPCs d8 #2</text>
<line x1="357.80" y1="563.00" x2="349.97" y2="570.83" stroke="#222" stroke-width="1.3" stroke-dasharray="1.3 2.9"/>
<text transform="translate(297.64,646.63) rotate(-45)" font-size="13.7" fill="#111">HPCs d8 #1</text>
<line x1="379.15" y1="563.00" x2="354.08" y2="588.07" stroke="#222" stroke-width="1.3" stroke-dasharray="1.3 2.9"/>
<text transform="translate(319.02,646.74) rotate(-45)" font-size="13.7" fill="#111">HPCs d8 #2</text>
<line x1="400.50" y1="563.00" x2="375.39" y2="588.11" stroke="#222" stroke-width="1.3" stroke-dasharray="1.3 2.9"/>
<text transform="translate(340.40,646.85) rotate(-45)" font-size="13.7" fill="#111">HPCs d12 #1</text>
<line x1="421.85" y1="563.00" x2="402.08" y2="582.77" stroke="#222" stroke-width="1.3" stroke-dasharray="1.3 2.9"/>
<text transform="translate(361.78,646.96) rotate(-45)" font-size="13.7" fill="#111">HPCs d12 #2</text>
<line x1="443.20" y1="563.00" x2="423.39" y2="582.81" stroke="#222" stroke-width="1.3" stroke-dasharray="1.3 2.9"/>
<text transform="translate(383.16,647.07) rotate(-45)" font-size="13.7" fill="#111">CB-CD34+</text>
<line x1="464.55" y1="563.00" x2="434.19" y2="593.36" stroke="#222" stroke-width="1.3" stroke-dasharray="1.3 2.9"/>
<defs><linearGradient id="gB" x1="0" y1="0" x2="0" y2="1"><stop offset="0" stop-color="#dc3e38"/><stop offset="0.08" stop-color="#dc4a3a"/><stop offset="0.116" stop-color="#df6a44"/><stop offset="0.158" stop-color="#e38a4c"/><stop offset="0.195" stop-color="#e6a85a"/><stop offset="0.23" stop-color="#e4b96a"/><stop offset="0.3" stop-color="#dcbe7e"/><stop offset="0.375" stop-color="#d3c195"/><stop offset="0.453" stop-color="#cac3ad"/><stop offset="0.53" stop-color="#c3c3c3"/><stop offset="1" stop-color="#c2c2c2"/></linearGradient></defs>
<rect x="387.25" y="686.1" width="7.75" height="153.4" fill="url(#gB)" stroke="#111" stroke-width="2"/>
<text x="401.5" y="691.3" font-size="13.6" fill="#000">1.0</text>
<text x="401.5" y="844" font-size="13.6" fill="#000">0.5</text>
<text transform="translate(410.6,733.5) rotate(90)" font-size="13.6" fill="#000">Correlation</text>
<text x="0" y="893.3" font-size="27" font-weight="bold" fill="#000">C</text>
<text x="237.8" y="886.0" font-size="19" text-anchor="middle" fill="#000">Hemopoiesis</text>
<path d="M101.90,985.90V922.84H123.25V985.90M144.60,985.90V931.82H165.95V985.90M187.30,985.90V931.82H208.65V985.90M155.28,931.82V922.84H197.98V931.82M112.58,922.84V913.86H176.62V922.84M230.00,985.90V931.82H251.35V985.90M294.05,985.90V940.80H315.40V985.90M272.70,985.90V931.82H304.73V940.80M240.68,931.82V922.84H294.05V931.82M336.75,985.90V940.80H358.10V985.90M379.45,985.90V940.80H400.80V985.90M347.43,940.80V931.82H390.13V940.80M422.15,985.90V931.82H443.50V985.90M368.78,931.82V922.84H432.82V931.82M272.70,922.84V913.86H390.12V922.84M155.28,913.86V904.88H336.75V913.86M272.70,904.88V895.90H464.85V985.90" fill="none" stroke="#3b55a3" stroke-width="2" stroke-linejoin="miter"/>
<defs><clipPath id="clipC"><path d="M19.90,1091.20L201.95,908.15L384.00,1091.20L201.95,1273.25Z"/></clipPath><filter id="blC" x="-5%" y="-5%" width="110%" height="110%"><feGaussianBlur stdDeviation="0.9"/></filter></defs>
<g clip-path="url(#clipC)"><g filter="url(#blC)" shape-rendering="crispEdges"><path d="M20.90,1091.20L31.55,1080.55L42.20,1091.20L31.55,1101.85Z" fill="#d84537"/><path d="M42.20,1091.20L52.85,1080.55L63.50,1091.20L52.85,1101.85Z" fill="#df6c45"/><path d="M63.50,1091.20L74.15,1080.55L84.80,1091.20L74.15,1101.85Z" fill="#d84537"/><path d="M84.80,1091.20L95.45,1080.55L106.10,1091.20L95.45,1101.85Z" fill="#dd583c"/><path d="M106.10,1091.20L116.75,1080.55L127.40,1091.20L116.75,1101.85Z" fill="#d84537"/><path d="M127.40,1091.20L138.05,1080.55L148.70,1091.20L138.05,1101.85Z" fill="#cbc2a7"/><path d="M148.70,1091.20L159.35,1080.55L170.00,1091.20L159.35,1101.85Z" fill="#d84537"/><path d="M170.00,1091.20L180.65,1080.55L191.30,1091.20L180.65,1101.85Z" fill="#e2bb68"/><path d="M191.30,1091.20L201.95,1080.55L212.60,1091.20L201.95,1101.85Z" fill="#d84537"/><path d="M212.60,1091.20L223.25,1080.55L233.90,1091.20L223.25,1101.85Z" fill="#d84537"/><path d="M233.90,1091.20L244.55,1080.55L255.20,1091.20L244.55,1101.85Z" fill="#e2bb68"/><path d="M255.20,1091.20L265.85,1080.55L276.50,1091.20L265.85,1101.85Z" fill="#d84537"/><path d="M276.50,1091.20L287.15,1080.55L297.80,1091.20L287.15,1101.85Z" fill="#d84537"/><path d="M297.80,1091.20L308.45,1080.55L319.10,1091.20L308.45,1101.85Z" fill="#d84537"/><path d="M319.10,1091.20L329.75,1080.55L340.40,1091.20L329.75,1101.85Z" fill="#d84537"/><path d="M340.40,1091.20L351.05,1080.55L361.70,1091.20L351.05,1101.85Z" fill="#d84537"/><path d="M361.70,1091.20L372.35,1080.55L383.00,1091.20L372.35,1101.85Z" fill="#cbc2a7"/><path d="M31.55,1101.85L42.20,1091.20L52.85,1101.85L42.20,1112.50Z" fill="#df6c45"/><path d="M52.85,1101.85L63.50,1091.20L74.15,1101.85L63.50,1112.50Z" fill="#e3884c"/><path d="M74.15,1101.85L84.80,1091.20L95.45,1101.85L84.80,1112.50Z" fill="#dd583c"/><path d="M95.45,1101.85L106.10,1091.20L116.75,1101.85L106.10,1112.50Z" fill="#dd583c"/><path d="M116.75,1101.85L127.40,1091.20L138.05,1101.85L127.40,1112.50Z" fill="#cbc2a7"/><path d="M138.05,1101.85L148.70,1091.20L159.35,1101.85L148.70,1112.50Z" fill="#cbc2a7"/><path d="M159.35,1101.85L170.00,1091.20L180.65,1101.85L170.00,1112.50Z" fill="#e2bb68"/><path d="M180.65,1101.85L191.30,1091.20L201.95,1101.85L191.30,1112.50Z" fill="#e2bb68"/><path d="M201.95,1101.85L212.60,1091.20L223.25,1101.85L212.60,1112.50Z" fill="#dd583c"/><path d="M223.25,1101.85L233.90,1091.20L244.55,1101.85L233.90,1112.50Z" fill="#e2bb68"/><path d="M244.55,1101.85L255.20,1091.20L265.85,1101.85L255.20,1112.50Z" fill="#e2bb68"/><path d="M265.85,1101.85L276.50,1091.20L287.15,1101.85L276.50,1112.50Z" fill="#d84537"/><path d="M287.15,1101.85L297.80,1091.20L308.45,1101.85L297.80,1112.50Z" fill="#d84537"/><path d="M308.45,1101.85L319.10,1091.20L329.75,1101.85L319.10,1112.50Z" fill="#d84537"/><path d="M329.75,1101.85L340.40,1091.20L351.05,1101.85L340.40,1112.50Z" fill="#d84537"/><path d="M351.05,1101.85L361.70,1091.20L372.35,1101.85L361.70,1112.50Z" fill="#cbc2a7"/><path d="M42.20,1112.50L52.85,1101.85L63.50,1112.50L52.85,1123.15Z" fill="#e3884c"/><path d="M63.50,1112.50L74.15,1101.85L84.80,1112.50L74.15,1123.15Z" fill="#e3884c"/><path d="M84.80,1112.50L95.45,1101.85L106.10,1112.50L95.45,1123.15Z" fill="#df6c45"/><path d="M106.10,1112.50L116.75,1101.85L127.40,1112.50L116.75,1123.15Z" fill="#cbc2a7"/><path d="M127.40,1112.50L138.05,1101.85L148.70,1112.50L138.05,1123.15Z" fill="#cbc2a7"/><path d="M148.70,1112.50L159.35,1101.85L170.00,1112.50L159.35,1123.15Z" fill="#cbc2a7"/><path d="M170.00,1112.50L180.65,1101.85L191.30,1112.50L180.65,1123.15Z" fill="#e2bb68"/><path d="M191.30,1112.50L201.95,1101.85L212.60,1112.50L201.95,1123.15Z" fill="#e4ad5e"/><path d="M212.60,1112.50L223.25,1101.85L233.90,1112.50L223.25,1123.15Z" fill="#e2bb68"/><path d="M233.90,1112.50L244.55,1101.85L255.20,1112.50L244.55,1123.15Z" fill="#e2bb68"/><path d="M255.20,1112.50L265.85,1101.85L276.50,1112.50L265.85,1123.15Z" fill="#e2bb68"/><path d="M276.50,1112.50L287.15,1101.85L297.80,1112.50L287.15,1123.15Z" fill="#d84537"/><path d="M297.80,1112.50L308.45,1101.85L319.10,1112.50L308.45,1123.15Z" fill="#dd583c"/><path d="M319.10,1112.50L329.75,1101.85L340.40,1112.50L329.75,1123.15Z" fill="#dd583c"/><path d="M340.40,1112.50L351.05,1101.85L361.70,1112.50L351.05,1123.15Z" fill="#cbc2a7"/><path d="M52.85,1123.15L63.50,1112.50L74.15,1123.15L63.50,1133.80Z" fill="#e3884c"/><path d="M74.15,1123.15L84.80,1112.50L95.45,1123.15L84.80,1133.80Z" fill="#e07a47"/><path d="M95.45,1123.15L106.10,1112.50L116.75,1123.15L106.10,1133.80Z" fill="#cbc2a7"/><path d="M116.75,1123.15L127.40,1112.50L138.05,1123.15L127.40,1133.80Z" fill="#cbc2a7"/><path d="M138.05,1123.15L148.70,1112.50L159.35,1123.15L148.70,1133.80Z" fill="#cbc2a7"/><path d="M159.35,1123.15L170.00,1112.50L180.65,1123.15L170.00,1133.80Z" fill="#cbc2a7"/><path d="M180.65,1123.15L191.30,1112.50L201.95,1123.15L191.30,1133.80Z" fill="#e5a155"/><path d="M201.95,1123.15L212.60,1112.50L223.25,1123.15L212.60,1133.80Z" fill="#c3c4c5"/><path d="M223.25,1123.15L233.90,1112.50L244.55,1123.15L233.90,1133.80Z" fill="#e2bb68"/><path d="M244.55,1123.15L255.20,1112.50L265.85,1123.15L255.20,1133.80Z" fill="#e2bb68"/><path d="M265.85,1123.15L276.50,1112.50L287.15,1123.15L276.50,1133.80Z" fill="#e2bb68"/><path d="M287.15,1123.15L297.80,1112.50L308.45,1123.15L297.80,1133.80Z" fill="#df6c45"/><path d="M308.45,1123.15L319.10,1112.50L329.75,1123.15L319.10,1133.80Z" fill="#df6c45"/><path d="M329.75,1123.15L340.40,1112.50L351.05,1123.15L340.40,1133.80Z" fill="#cbc2a7"/><path d="M63.50,1133.80L74.15,1123.15L84.80,1133.80L74.15,1144.45Z" fill="#e3884c"/><path d="M84.80,1133.80L95.45,1123.15L106.10,1133.80L95.45,1144.45Z" fill="#cbc2a7"/><path d="M106.10,1133.80L116.75,1123.15L127.40,1133.80L116.75,1144.45Z" fill="#cbc2a7"/><path d="M127.40,1133.80L138.05,1123.15L148.70,1133.80L138.05,1144.45Z" fill="#cbc2a7"/><path d="M148.70,1133.80L159.35,1123.15L170.00,1133.80L159.35,1144.45Z" fill="#cbc2a7"/><path d="M170.00,1133.80L180.65,1123.15L191.30,1133.80L180.65,1144.45Z" fill="#cbc2a7"/><path d="M191.30,1133.80L201.95,1123.15L212.60,1133.80L201.95,1144.45Z" fill="#cbc2a7"/><path d="M212.60,1133.80L223.25,1123.15L233.90,1133.80L223.25,1144.45Z" fill="#c3c4c5"/><path d="M233.90,1133.80L244.55,1123.15L255.20,1133.80L244.55,1144.45Z" fill="#e2bb68"/><path d="M255.20,1133.80L265.85,1123.15L276.50,1133.80L265.85,1144.45Z" fill="#e2bb68"/><path d="M276.50,1133.80L287.15,1123.15L297.80,1133.80L287.15,1144.45Z" fill="#e2bb68"/><path d="M297.80,1133.80L308.45,1123.15L319.10,1133.80L308.45,1144.45Z" fill="#df6c45"/><path d="M319.10,1133.80L329.75,1123.15L340.40,1133.80L329.75,1144.45Z" fill="#cbc2a7"/><path d="M74.15,1144.45L84.80,1133.80L95.45,1144.45L84.80,1155.10Z" fill="#cbc2a7"/><path d="M95.45,1144.45L106.10,1133.80L116.75,1144.45L106.10,1155.10Z" fill="#cbc2a7"/><path d="M116.75,1144.45L127.40,1133.80L138.05,1144.45L127.40,1155.10Z" fill="#c6c3b7"/><path d="M138.05,1144.45L148.70,1133.80L159.35,1144.45L148.70,1155.10Z" fill="#c6c3b7"/><path d="M159.35,1144.45L170.00,1133.80L180.65,1144.45L170.00,1155.10Z" fill="#cbc2a7"/><path d="M180.65,1144.45L191.30,1133.80L201.95,1144.45L191.30,1155.10Z" fill="#cbc2a7"/><path d="M201.95,1144.45L212.60,1133.80L223.25,1144.45L212.60,1155.10Z" fill="#c6c3b7"/><path d="M223.25,1144.45L233.90,1133.80L244.55,1144.45L233.90,1155.10Z" fill="#c3c4c5"/><path d="M244.55,1144.45L255.20,1133.80L265.85,1144.45L255.20,1155.10Z" fill="#e2bb68"/><path d="M265.85,1144.45L276.50,1133.80L287.15,1144.45L276.50,1155.10Z" fill="#e2bb68"/><path d="M287.15,1144.45L297.80,1133.80L308.45,1144.45L297.80,1155.10Z" fill="#e2bb68"/><path d="M308.45,1144.45L319.10,1133.80L329.75,1144.45L319.10,1155.10Z" fill="#c3c4c5"/><path d="M84.80,1155.10L95.45,1144.45L106.10,1155.10L95.45,1165.75Z" fill="#cbc2a7"/><path d="M106.10,1155.10L116.75,1144.45L127.40,1155.10L116.75,1165.75Z" fill="#c6c3b7"/><path d="M127.40,1155.10L138.05,1144.45L148.70,1155.10L138.05,1165.75Z" fill="#c6c3b7"/><path d="M148.70,1155.10L159.35,1144.45L170.00,1155.10L159.35,1165.75Z" fill="#cbc2a7"/><path d="M170.00,1155.10L180.65,1144.45L191.30,1155.10L180.65,1165.75Z" fill="#cbc2a7"/><path d="M191.30,1155.10L201.95,1144.45L212.60,1155.10L201.95,1165.75Z" fill="#cbc2a7"/><path d="M212.60,1155.10L223.25,1144.45L233.90,1155.10L223.25,1165.75Z" fill="#c3c4c5"/><path d="M233.90,1155.10L244.55,1144.45L255.20,1155.10L244.55,1165.75Z" fill="#c3c4c5"/><path d="M255.20,1155.10L265.85,1144.45L276.50,1155.10L265.85,1165.75Z" fill="#e2bb68"/><path d="M276.50,1155.10L287.15,1144.45L297.80,1155.10L287.15,1165.75Z" fill="#dcbc76"/><path d="M297.80,1155.10L308.45,1144.45L319.10,1155.10L308.45,1165.75Z" fill="#c3c4c5"/><path d="M95.45,1165.75L106.10,1155.10L116.75,1165.75L106.10,1176.40Z" fill="#c6c3b7"/><path d="M116.75,1165.75L127.40,1155.10L138.05,1165.75L127.40,1176.40Z" fill="#c3c4c5"/><path d="M138.05,1165.75L148.70,1155.10L159.35,1165.75L148.70,1176.40Z" fill="#c6c3b7"/><path d="M159.35,1165.75L170.00,1155.10L180.65,1165.75L170.00,1176.40Z" fill="#d0c29c"/><path d="M180.65,1165.75L191.30,1155.10L201.95,1165.75L191.30,1176.40Z" fill="#cbc2a7"/><path d="M201.95,1165.75L212.60,1155.10L223.25,1165.75L212.60,1176.40Z" fill="#c6c3b7"/><path d="M223.25,1165.75L233.90,1155.10L244.55,1165.75L233.90,1176.40Z" fill="#c3c4c5"/><path d="M244.55,1165.75L255.20,1155.10L265.85,1165.75L255.20,1176.40Z" fill="#c3c4c5"/><path d="M265.85,1165.75L276.50,1155.10L287.15,1165.75L276.50,1176.40Z" fill="#dcbc76"/><path d="M287.15,1165.75L297.80,1155.10L308.45,1165.75L297.80,1176.40Z" fill="#c3c4c5"/><path d="M106.10,1176.40L116.75,1165.75L127.40,1176.40L116.75,1187.05Z" fill="#c3c4c5"/><path d="M127.40,1176.40L138.05,1165.75L148.70,1176.40L138.05,1187.05Z" fill="#c3c4c5"/><path d="M148.70,1176.40L159.35,1165.75L170.00,1176.40L159.35,1187.05Z" fill="#cbc2a7"/><path d="M170.00,1176.40L180.65,1165.75L191.30,1176.40L180.65,1187.05Z" fill="#d0c29c"/><path d="M191.30,1176.40L201.95,1165.75L212.60,1176.40L201.95,1187.05Z" fill="#c6c3b7"/><path d="M212.60,1176.40L223.25,1165.75L233.90,1176.40L223.25,1187.05Z" fill="#c6c3b7"/><path d="M233.90,1176.40L244.55,1165.75L255.20,1176.40L244.55,1187.05Z" fill="#c3c4c5"/><path d="M255.20,1176.40L265.85,1165.75L276.50,1176.40L265.85,1187.05Z" fill="#c3c4c5"/><path d="M276.50,1176.40L287.15,1165.75L297.80,1176.40L287.15,1187.05Z" fill="#c3c4c5"/><path d="M116.75,1187.05L127.40,1176.40L138.05,1187.05L127.40,1197.70Z" fill="#c3c4c5"/><path d="M138.05,1187.05L148.70,1176.40L159.35,1187.05L148.70,1197.70Z" fill="#c3c4c5"/><path d="M159.35,1187.05L170.00,1176.40L180.65,1187.05L170.00,1197.70Z" fill="#cbc2a7"/><path d="M180.65,1187.05L191.30,1176.40L201.95,1187.05L191.30,1197.70Z" fill="#cbc2a7"/><path d="M201.95,1187.05L212.60,1176.40L223.25,1187.05L212.60,1197.70Z" fill="#c6c3b7"/><path d="M223.25,1187.05L233.90,1176.40L244.55,1187.05L233.90,1197.70Z" fill="#c3c4c5"/><path d="M244.55,1187.05L255.20,1176.40L265.85,1187.05L255.20,1197.70Z" fill="#c3c4c5"/><path d="M265.85,1187.05L276.50,1176.40L287.15,1187.05L276.50,1197.70Z" fill="#c3c4c5"/><path d="M127.40,1197.70L138.05,1187.05L148.70,1197.70L138.05,1208.35Z" fill="#c3c4c5"/><path d="M148.70,1197.70L159.35,1187.05L170.00,1197.70L159.35,1208.35Z" fill="#c6c3b7"/><path d="M170.00,1197.70L180.65,1187.05L191.30,1197.70L180.65,1208.35Z" fill="#c6c3b7"/><path d="M191.30,1197.70L201.95,1187.05L212.60,1197.70L201.95,1208.35Z" fill="#c6c3b7"/><path d="M212.60,1197.70L223.25,1187.05L233.90,1197.70L223.25,1208.35Z" fill="#c6c3b7"/><path d="M233.90,1197.70L244.55,1187.05L255.20,1197.70L244.55,1208.35Z" fill="#c3c4c5"/><path d="M255.20,1197.70L265.85,1187.05L276.50,1197.70L265.85,1208.35Z" fill="#c3c4c5"/><path d="M138.05,1208.35L148.70,1197.70L159.35,1208.35L148.70,1219.00Z" fill="#c3c4c5"/><path d="M159.35,1208.35L170.00,1197.70L180.65,1208.35L170.00,1219.00Z" fill="#c3c4c5"/><path d="M180.65,1208.35L191.30,1197.70L201.95,1208.35L191.30,1219.00Z" fill="#c6c3b7"/><path d="M201.95,1208.35L212.60,1197.70L223.25,1208.35L212.60,1219.00Z" fill="#c6c3b7"/><path d="M223.25,1208.35L233.90,1197.70L244.55,1208.35L233.90,1219.00Z" fill="#c3c4c5"/><path d="M244.55,1208.35L255.20,1197.70L265.85,1208.35L255.20,1219.00Z" fill="#c3c4c5"/><path d="M148.70,1219.00L159.35,1208.35L170.00,1219.00L159.35,1229.65Z" fill="#c3c4c5"/><path d="M170.00,1219.00L180.65,1208.35L191.30,1219.00L180.65,1229.65Z" fill="#c3c4c5"/><path d="M191.30,1219.00L201.95,1208.35L212.60,1219.00L201.95,1229.65Z" fill="#c6c3b7"/><path d="M212.60,1219.00L223.25,1208.35L233.90,1219.00L223.25,1229.65Z" fill="#c3c4c5"/><path d="M233.90,1219.00L244.55,1208.35L255.20,1219.00L244.55,1229.65Z" fill="#c3c4c5"/><path d="M159.35,1229.65L170.00,1219.00L180.65,1229.65L170.00,1240.30Z" fill="#c3c4c5"/><path d="M180.65,1229.65L191.30,1219.00L201.95,1229.65L191.30,1240.30Z" fill="#c3c4c5"/><path d="M201.95,1229.65L212.60,1219.00L223.25,1229.65L212.60,1240.30Z" fill="#c3c4c5"/><path d="M223.25,1229.65L233.90,1219.00L244.55,1229.65L233.90,1240.30Z" fill="#c3c4c5"/><path d="M170.00,1240.30L180.65,1229.65L191.30,1240.30L180.65,1250.95Z" fill="#c3c4c5"/><path d="M191.30,1240.30L201.95,1229.65L212.60,1240.30L201.95,1250.95Z" fill="#c3c4c5"/><path d="M212.60,1240.30L223.25,1229.65L233.90,1240.30L223.25,1250.95Z" fill="#c3c4c5"/><path d="M180.65,1250.95L191.30,1240.30L201.95,1250.95L191.30,1261.60Z" fill="#c3c4c5"/><path d="M201.95,1250.95L212.60,1240.30L223.25,1250.95L212.60,1261.60Z" fill="#c3c4c5"/><path d="M191.30,1261.60L201.95,1250.95L212.60,1261.60L201.95,1272.25Z" fill="#c3c4c5"/></g></g>
<path d="M20.90,1091.20L31.55,1080.55L42.20,1091.20L52.85,1080.55L63.50,1091.20L74.15,1080.55L84.80,1091.20L95.45,1080.55L106.10,1091.20L116.75,1080.55L127.40,1091.20L138.05,1080.55L148.70,1091.20L159.35,1080.55L170.00,1091.20L180.65,1080.55L191.30,1091.20L201.95,1080.55L212.60,1091.20L223.25,1080.55L233.90,1091.20L244.55,1080.55L255.20,1091.20L265.85,1080.55L276.50,1091.20L287.15,1080.55L297.80,1091.20L308.45,1080.55L319.10,1091.20L329.75,1080.55L340.40,1091.20L351.05,1080.55L361.70,1091.20L372.35,1080.55L383.00,1091.20L201.95,1272.25Z" fill="none" stroke="#000" stroke-width="2.6" stroke-linejoin="miter" stroke-miterlimit="10"/>
<text transform="translate(20.40,1079.70) rotate(-45)" font-size="13.7" fill="#111">ECs d12 #1</text>
<line x1="102.30" y1="997.50" x2="76.13" y2="1023.67" stroke="#222" stroke-width="1.3" stroke-dasharray="1.3 2.9"/>
<text transform="translate(41.74,1079.84) rotate(-45)" font-size="13.7" fill="#111">ECs d12 #2</text>
<line x1="123.65" y1="997.50" x2="97.41" y2="1023.74" stroke="#222" stroke-width="1.3" stroke-dasharray="1.3 2.9"/>
<text transform="translate(63.08,1079.97) rotate(-45)" font-size="13.7" fill="#111">ECs d8 #1</text>
<line x1="145.00" y1="997.50" x2="113.31" y2="1029.19" stroke="#222" stroke-width="1.3" stroke-dasharray="1.3 2.9"/>
<text transform="translate(84.42,1080.11) rotate(-45)" font-size="13.7" fill="#111">ECs d8 #2</text>
<line x1="166.35" y1="997.50" x2="134.59" y2="1029.26" stroke="#222" stroke-width="1.3" stroke-dasharray="1.3 2.9"/>
<text transform="translate(105.76,1080.24) rotate(-45)" font-size="13.7" fill="#111">ECs d6 #1</text>
<line x1="187.70" y1="997.50" x2="155.86" y2="1029.34" stroke="#222" stroke-width="1.3" stroke-dasharray="1.3 2.9"/>
<text transform="translate(127.10,1080.38) rotate(-45)" font-size="13.7" fill="#111">ECs d6 #2</text>
<line x1="209.05" y1="997.50" x2="177.14" y2="1029.41" stroke="#222" stroke-width="1.3" stroke-dasharray="1.3 2.9"/>
<text transform="translate(148.44,1080.51) rotate(-45)" font-size="13.7" fill="#42703d">Sox17ECs d8</text>
<line x1="230.40" y1="997.50" x2="212.41" y2="1015.49" stroke="#222" stroke-width="1.3" stroke-dasharray="1.3 2.9"/>
<text transform="translate(169.78,1080.64) rotate(-45)" font-size="13.7" fill="#42703d">Sox17HPCs d12</text>
<line x1="251.75" y1="997.50" x2="246.06" y2="1003.19" stroke="#222" stroke-width="1.3" stroke-dasharray="1.3 2.9"/>
<text transform="translate(191.12,1080.78) rotate(-45)" font-size="13.7" fill="#42703d">Sox17ECs d6</text>
<line x1="273.10" y1="997.50" x2="254.96" y2="1015.64" stroke="#222" stroke-width="1.3" stroke-dasharray="1.3 2.9"/>
<text transform="translate(212.46,1080.91) rotate(-45)" font-size="13.7" fill="#42703d">Sox17pre-HPCs d8</text>
<text transform="translate(233.80,1081.05) rotate(-45)" font-size="13.7" fill="#42703d">Sox17HPCs d8</text>
<line x1="315.80" y1="997.50" x2="304.51" y2="1008.79" stroke="#222" stroke-width="1.3" stroke-dasharray="1.3 2.9"/>
<text transform="translate(255.14,1081.18) rotate(-45)" font-size="13.7" fill="#111">pre-HPCs d8 #1</text>
<line x1="337.15" y1="997.50" x2="329.00" y2="1005.65" stroke="#222" stroke-width="1.3" stroke-dasharray="1.3 2.9"/>
<text transform="translate(276.48,1081.32) rotate(-45)" font-size="13.7" fill="#111">pre-HPCs d8 #2</text>
<line x1="358.50" y1="997.50" x2="350.28" y2="1005.72" stroke="#222" stroke-width="1.3" stroke-dasharray="1.3 2.9"/>
<text transform="translate(297.82,1081.46) rotate(-45)" font-size="13.7" fill="#111">HPCs d8 #1</text>
<line x1="379.85" y1="997.50" x2="354.35" y2="1023.00" stroke="#222" stroke-width="1.3" stroke-dasharray="1.3 2.9"/>
<text transform="translate(319.16,1081.59) rotate(-45)" font-size="13.7" fill="#111">HPCs d8 #2</text>
<line x1="401.20" y1="997.50" x2="375.63" y2="1023.07" stroke="#222" stroke-width="1.3" stroke-dasharray="1.3 2.9"/>
<text transform="translate(340.50,1081.73) rotate(-45)" font-size="13.7" fill="#111">HPCs d12 #1</text>
<line x1="422.55" y1="997.50" x2="402.29" y2="1017.76" stroke="#222" stroke-width="1.3" stroke-dasharray="1.3 2.9"/>
<text transform="translate(361.84,1081.86) rotate(-45)" font-size="13.7" fill="#111">HPCs d12 #2</text>
<line x1="443.90" y1="997.50" x2="423.57" y2="1017.83" stroke="#222" stroke-width="1.3" stroke-dasharray="1.3 2.9"/>
<text transform="translate(383.18,1082.00) rotate(-45)" font-size="13.7" fill="#111">CB-CD34+</text>
<line x1="465.25" y1="997.50" x2="434.34" y2="1028.41" stroke="#222" stroke-width="1.3" stroke-dasharray="1.3 2.9"/>
<defs><linearGradient id="gC" x1="0" y1="0" x2="0" y2="1"><stop offset="0" stop-color="#dc3e38"/><stop offset="0.08" stop-color="#dc4a3a"/><stop offset="0.116" stop-color="#df6a44"/><stop offset="0.158" stop-color="#e38a4c"/><stop offset="0.195" stop-color="#e6a85a"/><stop offset="0.23" stop-color="#e4b96a"/><stop offset="0.3" stop-color="#dcbe7e"/><stop offset="0.375" stop-color="#d3c195"/><stop offset="0.453" stop-color="#cac3ad"/><stop offset="0.53" stop-color="#c3c3c3"/><stop offset="1" stop-color="#c2c2c2"/></linearGradient></defs>
<rect x="387.8" y="1121" width="7.9" height="152.7" fill="url(#gC)" stroke="#111" stroke-width="2"/>
<text x="403" y="1126.3" font-size="13.6" fill="#000">1.0</text>
<text x="403" y="1280" font-size="13.6" fill="#000">0.5</text>
<text transform="translate(412,1168.0) rotate(90)" font-size="13.6" fill="#000">Correlation</text>
</svg>
</body></html>
